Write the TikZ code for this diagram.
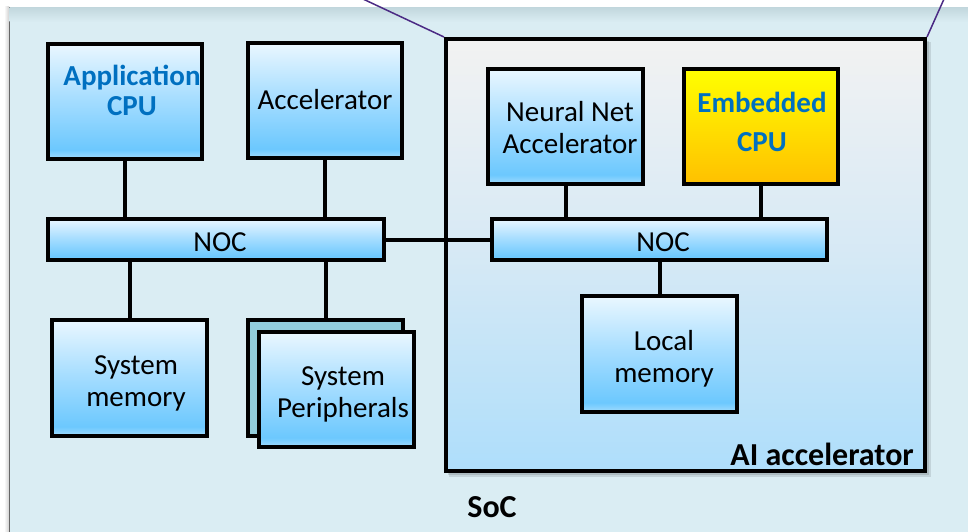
\documentclass[tikz,border=0pt]{standalone}
\usepackage{fontspec}
\setmainfont{Carlito}
\usetikzlibrary{calc}

\definecolor{socfill}{HTML}{DAEDF3}
\definecolor{socshadow}{HTML}{C2D7DD}
\definecolor{bbTop}{HTML}{EAF7FF}
\definecolor{bbMid}{HTML}{A8DEFF}
\definecolor{bbDeep}{HTML}{6CC8FE}
\definecolor{bbBot}{HTML}{A3DCFD}
\definecolor{ybTop}{HTML}{FFFF00}
\definecolor{ybBot}{HTML}{FFC000}
\definecolor{aiTop}{HTML}{F2F2F2}
\definecolor{aiMid}{HTML}{D6E9F5}
\definecolor{aiBot}{HTML}{AEDEFB}
\definecolor{backpanel}{HTML}{92CDDC}
\definecolor{titleblue}{HTML}{0070C0}
\definecolor{callout}{HTML}{4B2A84}

% vertical shadings: the path box maps onto 25bp (bottom) .. 75bp (top)
\pgfdeclareverticalshading{blockblue}{100bp}{color(0bp)=(bbBot);color(25bp)=(bbBot);color(29bp)=(bbDeep);color(52bp)=(bbMid);color(75bp)=(bbTop);color(100bp)=(bbTop)}
\pgfdeclareverticalshading{blockyellow}{100bp}{color(0bp)=(ybBot);color(25bp)=(ybBot);color(75bp)=(ybTop);color(100bp)=(ybTop)}
\pgfdeclareverticalshading{aishade}{100bp}{color(0bp)=(aiBot);color(25bp)=(aiBot);color(50bp)=(aiMid);color(75bp)=(aiTop);color(100bp)=(aiTop)}

\tikzset{
  blkbase/.style={draw, line width=4pt, inner sep=0pt,
    minimum width=155pt, minimum height=115pt},
  blk/.style={blkbase, shading=blockblue},
  blkyellow/.style={blkbase, shading=blockyellow},
  blkback/.style={blkbase, fill=backpanel},
  busbar/.style={blk, minimum width=336pt, minimum height=41pt},
  wire/.style={line width=4pt},
  txt/.style={font=\fontsize{29}{32}\selectfont, align=center, inner sep=0pt},
  cputxt/.style={txt, font=\fontsize{29}{32}\selectfont\bfseries, text=titleblue},
  regiontxt/.style={txt, font=\fontsize{32}{36}\selectfont\bfseries},
  calloutline/.style={callout, line width=1.5pt},
}

\begin{document}
\begin{tikzpicture}[x=1pt,y=-1pt]
\useasboundingbox (0,0) rectangle (968,532);
\clip (0,0) rectangle (968,532);

% SoC container with its soft edge shadows
\shade[left color=white, right color=black!18] (4,7) rectangle (9,540);
\node (soc) [draw=black!60, line width=1pt, fill=socfill, anchor=north west,
  minimum width=1000pt, minimum height=560pt, inner sep=0pt] at (9,7) {};
\shade[top color=socshadow, bottom color=socfill] (9.5,7.5) rectangle (990,22);
\node (soclabel) [regiontxt, anchor=base] at (492,517) {SoC};

% AI accelerator container
\fill[black, opacity=.10] (449,42) rectangle (931,477);
\fill[black, opacity=.12] (448,41) rectangle (929,475);
\node (ai) [draw, line width=4pt, shading=aishade, inner sep=0pt,
  minimum width=479pt, minimum height=432pt] at (685.5,255) {};
\node (ailabel) [regiontxt, anchor=base east] at (914,465) {AI accelerator};

% callout lines meeting the accelerator's top corners
\coordinate (calloutL) at (363,-1);
\coordinate (calloutR) at (944,-1);
\draw[calloutline] (calloutL) -- (ai.north west);
\draw[calloutline] (calloutR) -- (ai.north east);

% host side blocks
\node (app) [blk, minimum width=154pt] at (125,101.5) {};
\node (appT) [cputxt, text width=150pt] at (132,90) {Application\\[-2pt]CPU};
\node (acc) [blk, minimum width=154pt] at (325,100.5) {};
\node (accT) [txt] at (325,100) {Accelerator};
\node (nocL) [busbar] at (216,239.5) {};
\node (nocLT) [txt] at (220,242) {NOC};
\node (mem) [blk, minimum height=116pt] at (129.5,378) {};
\node (memT) [txt] at (136,383) {System\\memory};
\node (perB) [blkback, minimum height=116pt] at (325.5,378) {};
\node (per) [blk] at (336.5,389.5) {};
\node (perT) [txt] at (343,394) {System\\Peripherals};

% accelerator side blocks
\node (nn) [blk] at (565.5,126.5) {};
\node (nnT) [txt] at (570,128) {Neural Net\\Accelerator};
\node (emb) [blkyellow, minimum width=154pt] at (761,126.5) {};
\node (embT) [cputxt] at (762,122) {Embedded\\[7pt]CPU};
\node (nocR) [busbar, minimum width=335pt] at (659.5,239.5) {};
\node (nocRT) [txt] at (663,242) {NOC};
\node (loc) [blk, minimum height=116pt] at (659.5,354) {};
\node (locT) [txt] at (664,359) {Local\\memory};

% interconnect wiring
\draw[wire] (app.south) -- (app.south |- nocL.north);
\draw[wire] (acc.south) -- (acc.south |- nocL.north);
\draw[wire] (mem.north) -- (mem.north |- nocL.south);
\draw[wire] (perB.north) -- (perB.north |- nocL.south);
\draw[wire] (nocL.east) -- (nocR.west);
\draw[wire] (nn.south) -- (nn.south |- nocR.north);
\draw[wire] (emb.south) -- (emb.south |- nocR.north);
\draw[wire] (loc.north) -- (loc.north |- nocR.south);
\end{tikzpicture}
\end{document}
